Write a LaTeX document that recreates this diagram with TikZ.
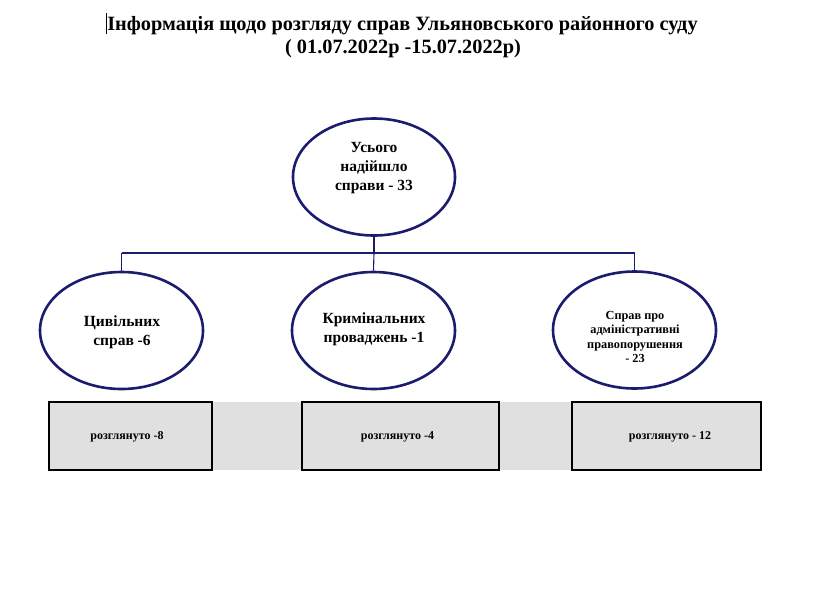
\documentclass[tikz,border=0pt]{standalone}
\usepackage{fontspec}
\setmainfont{Liberation Serif}
\usetikzlibrary{shapes.geometric}
\definecolor{navy}{RGB}{28,28,110}
\definecolor{boxgray}{RGB}{224,224,224}
\begin{document}
\begin{tikzpicture}[x=1pt,y=-1pt,
  oval/.style={ellipse, draw=navy, line width=2.6pt, minimum width=162pt, minimum height=117pt, inner sep=0pt},
  ovaltext/.style={align=center, inner sep=0pt, font=\fontsize{15.5}{19}\selectfont\bfseries},
  smalltext/.style={align=center, inner sep=0pt, font=\fontsize{12.3}{14.5}\selectfont\bfseries},
  resbox/.style={rectangle, draw=black, fill=boxgray, line width=1.4pt, minimum height=68pt, inner sep=0pt},
  boxtext/.style={inner sep=0pt, font=\fontsize{12}{14}\selectfont\bfseries},
  link/.style={draw=navy, line width=1.1pt},
  titletext/.style={inner sep=0pt, anchor=base, font=\fontsize{20.3}{23}\selectfont\bfseries}]
\useasboundingbox (0,0) rectangle (819,600);
\fill[white] (0,0) rectangle (819,600);

% title
\node[titletext] (t1) at (402.5,30) {Інформація щодо розгляду справ Ульяновського районного суду};
\node[titletext] (t2) at (403,53) {( 01.07.2022р -15.07.2022р)};
\draw[line width=1.8pt] (106.5,13) -- (106.5,34);

% ellipses
\node[oval] (top) at (374,177) {};
\node[oval, minimum width=163pt] (civ) at (121.5,330.5) {};
\node[oval, minimum width=163pt] (crim) at (373.5,330.5) {};
\node[oval, minimum width=163pt] (adm) at (634.5,330) {};

\node[ovaltext] (toptxt) at (374,168) {Усього\\надійшло\\справи - 33};
\node[ovaltext] (civtxt) at (122,332) {Цивільних\\справ -6};
\node[ovaltext] (crimtxt) at (374,329) {Кримінальних\\проваджень -1};
\node[smalltext] (admtxt) at (635,337) {Справ про\\адміністративні\\правопорушення\\- 23};

% connectors
\coordinate (hub) at (374,253);
\coordinate (hl) at (121.5,253);
\coordinate (hr) at (634.5,253);
\draw[link] (top.south) -- (hub);
\draw[link] (hub) -- (crim.north);
\draw[link] (hl) -- (hr);
\draw[link] (hl) -- (civ.north);
\draw[link] (hr) -- (adm.north);

% gray band and boxes
\fill[boxgray] (49,402) rectangle (761,470);
\node[resbox, minimum width=163pt] (b1) at (130.5,436) {};
\node[resbox, minimum width=197pt] (b2) at (400.5,436) {};
\node[resbox, minimum width=189pt] (b3) at (666.5,436) {};
\node[boxtext] (b1t) at (127,437) {розглянуто -8};
\node[boxtext] (b2t) at (397.5,437) {розглянуто -4};
\node[boxtext] (b3t) at (670,437) {розглянуто - 12};
\end{tikzpicture}
\end{document}
